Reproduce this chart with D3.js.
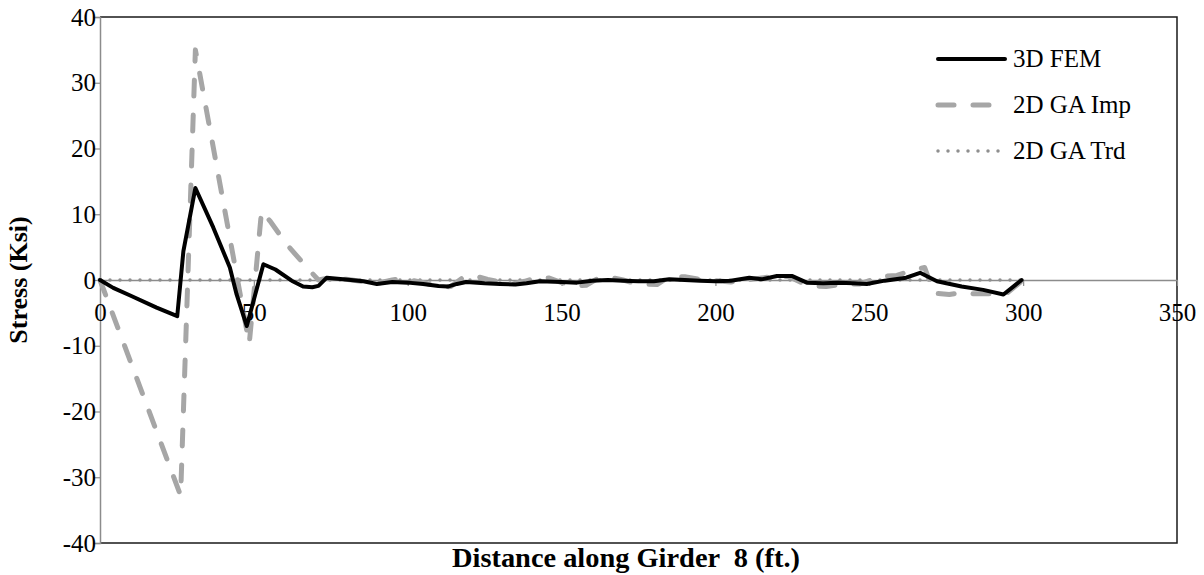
<!DOCTYPE html>
<html>
<head>
<meta charset="utf-8">
<script src="https://cdn.jsdelivr.net/npm/d3@7"></script>
<style>
  html, body { margin: 0; padding: 0; background: #fff; }
  svg { display: block; }
  text { font-family: "Liberation Serif", "Times New Roman", serif; }
</style>
</head>
<body>
<svg id="chart" width="1204" height="575"></svg>
<script>
// ---- data ----
const xTicks = [0, 50, 100, 150, 200, 250, 300, 350];
const yTicks = [-40, -30, -20, -10, 0, 10, 20, 30, 40];
const seriesNames = ["3D FEM", "2D GA Imp", "2D GA Trd"];

const fem = [
  [0,0],[4.3,-1.2],[10,-2.4],[18.4,-4.2],[25.1,-5.5],[27.1,4.4],[31,14],[36.8,8],[42.2,1.9],[44.4,-2.2],[47.7,-7],
  [53.1,2.4],[57,1.6],[62.3,-0.1],[66,-1.0],[69,-1.1],[71,-0.9],[73.7,0.35],[79,0.1],[85.6,-0.2],[90,-0.6],
  [95,-0.3],[100,-0.4],[105,-0.6],[110,-0.9],[113,-1.0],[116,-0.6],[119,-0.3],[125,-0.5],[130,-0.6],[135,-0.7],
  [138.6,-0.5],[143,-0.2],[150,-0.3],[155,-0.4],[160,-0.1],[165,0],[170,-0.1],[175,-0.2],[180,-0.2],[185,0.1],
  [190,0],[195,-0.1],[200,-0.2],[205,-0.1],[211,0.35],[215,0.1],[220,0.6],[225,0.6],[229.7,-0.4],[235,-0.5],
  [240,-0.4],[245,-0.5],[249.2,-0.6],[255,-0.1],[262,0.35],[266.5,1.1],[272,-0.2],[280,-1.0],[287,-1.5],
  [293.6,-2.2],[299.5,0]
];

const gaImp = [
  [0,0],[26.2,-32.8],[31,35],[48.5,-9.7],[52.5,10.5],[55.2,9],[60.7,5.4],[68.2,1.4],[71,0],[75,0.4],[80,0.1],
  [85,-0.2],[90,-0.5],[95,0],[98.5,0.3],[102,-0.1],[106,-0.5],[110,-1.1],[114,-1.0],[118,0.4],[122,0.6],[126,0.1],
  [130,-0.3],[134,-0.6],[138,-0.2],[142,0.4],[146,0.3],[150,-0.4],[154,-0.9],[158,-0.8],[162,0.3],[166,0.4],
  [170,0],[174.5,-0.6],[181,-0.7],[185,0.5],[190,0.5],[195,0.1],[200,-0.1],[205,-0.3],[210,0],[215,0.3],
  [220,0.6],[224,0.5],[228,-0.4],[231,-0.9],[236,-1.0],[240,-0.7],[243,-0.6],[247,-0.6],[250,-0.1],[253,0.5],
  [259,0.7],[264,1.5],[268,1.9],[271,-2.0],[276,-2.2],[280,-1.9],[284,-2.1],[289,-2.1],[294.7,-2.0],[300,0]
];

const gaTrd = [[0,0],[300,0]];

// ---- layout ----
const svg = d3.select("#chart");
const L = 100, R = 1177, T = 17, B = 543;
const x = d3.scaleLinear().domain([0, 350]).range([L, R]);
const y = d3.scaleLinear().domain([-40, 40]).range([B, T]);
const fmt = d => String(d);

// border: top/right/bottom dark
svg.append("path")
  .attr("d", `M${L},${T}H${R}V${B}H${L}`)
  .attr("fill", "none").attr("stroke", "#1a1a1a").attr("stroke-width", 1.5);

// left axis (gray)
const yAxis = d3.axisLeft(y).tickValues(yTicks).tickSize(7).tickFormat(fmt);
const gy = svg.append("g").attr("transform", `translate(${L},0)`).call(yAxis);
gy.select(".domain").attr("stroke", "#8c8c8c").attr("stroke-width", 1.5);
gy.selectAll(".tick line").attr("stroke", "#8c8c8c").attr("stroke-width", 1.2);
gy.selectAll(".tick text").attr("font-size", 25).attr("fill", "#000").attr("x", -4);

// x axis along zero line
const xAxis = d3.axisBottom(x).tickValues(xTicks).tickSize(6).tickSizeOuter(0).tickFormat(fmt);
const gx = svg.append("g").attr("transform", `translate(0,${y(0)})`).call(xAxis);
gx.select(".domain").attr("stroke", "#8c8c8c").attr("stroke-width", 1.5);
gx.selectAll(".tick line").attr("stroke", "#8c8c8c").attr("stroke-width", 1.2);
gx.selectAll(".tick text").attr("font-size", 25).attr("fill", "#000").attr("y", 23);

// lines
const line = d3.line().x(d => x(d[0])).y(d => y(d[1]));

svg.append("path").datum(gaTrd).attr("d", line)
  .attr("fill", "none").attr("stroke", "#8f8f8f").attr("stroke-width", 3.5)
  .attr("stroke-linecap", "round").attr("stroke-dasharray", "0,10");

svg.append("path").datum(gaImp).attr("d", line)
  .attr("fill", "none").attr("stroke", "#a6a6a6").attr("stroke-width", 5)
  .attr("stroke-linejoin", "round").attr("stroke-linecap", "round").attr("stroke-dasharray", "16,19");

svg.append("path").datum(fem).attr("d", line)
  .attr("fill", "none").attr("stroke", "#000").attr("stroke-width", 4)
  .attr("stroke-linejoin", "round").attr("stroke-linecap", "round");

// legend
const legendY = [59, 105, 151];
const legendStyles = [
  { stroke: "#000", width: 4, dash: null },
  { stroke: "#a6a6a6", width: 5, dash: "16,19" },
  { stroke: "#8f8f8f", width: 3.5, dash: "0,10" }
];
seriesNames.forEach((name, i) => {
  const st = legendStyles[i];
  const ln = svg.append("line")
    .attr("x1", 938).attr("x2", 1005).attr("y1", legendY[i]).attr("y2", legendY[i])
    .attr("stroke", st.stroke).attr("stroke-width", st.width).attr("stroke-linecap", "round");
  if (st.dash) ln.attr("stroke-dasharray", st.dash);
  svg.append("text").attr("x", 1013).attr("y", legendY[i]).attr("dy", "0.33em")
    .attr("font-size", 25).attr("fill", "#000").text(name);
});

// axis titles
svg.append("text")
  .attr("x", 626).attr("y", 567)
  .attr("text-anchor", "middle").attr("font-size", 27).attr("font-weight", "bold")
  .attr("textLength", 348).attr("lengthAdjust", "spacingAndGlyphs")
  .style("white-space", "pre")
  .text("Distance along Girder  8 (ft.)");

svg.append("text")
  .attr("transform", `translate(27,${280}) rotate(-90)`)
  .attr("text-anchor", "middle").attr("font-size", 26).attr("font-weight", "bold")
  .text("Stress (Ksi)");
</script>
</body>
</html>
